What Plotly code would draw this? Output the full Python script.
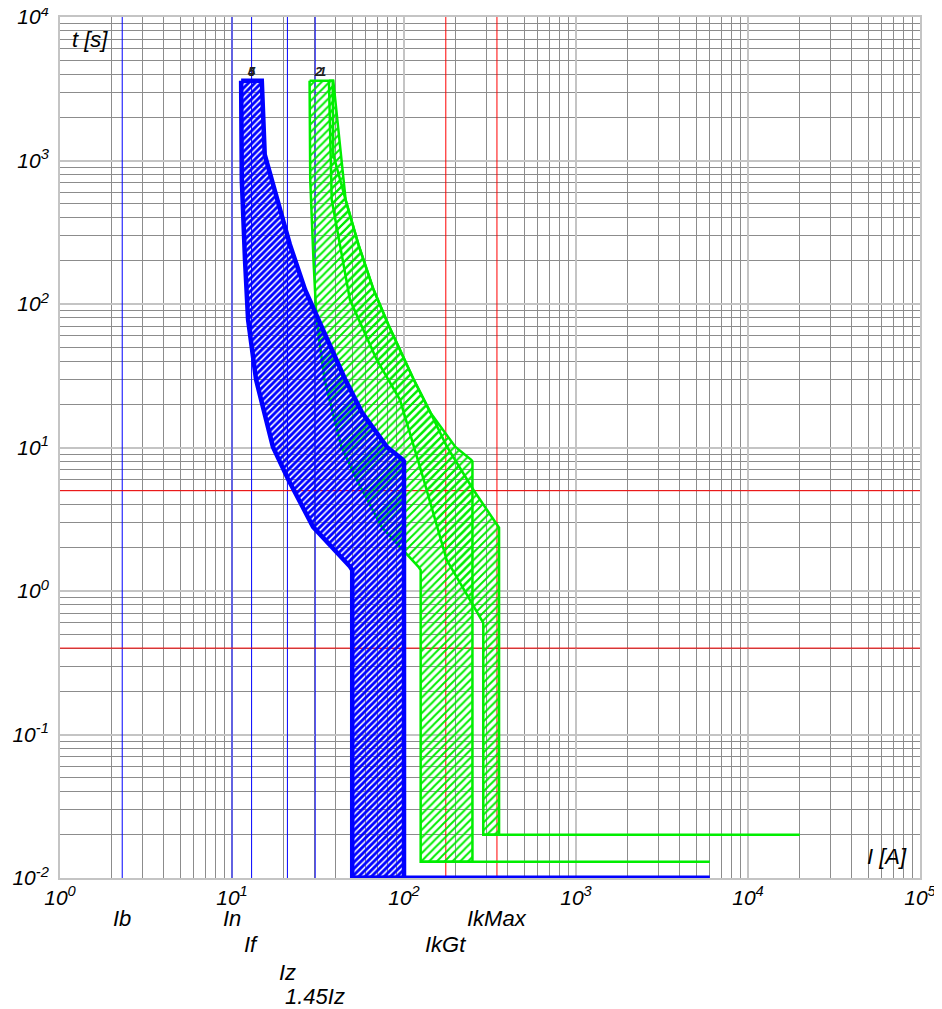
import plotly.graph_objects as go
import math

# ---------------- data ----------------
# Curves 4 / 5 (blue band)
blue_left_I = [11.3, 11.4, 11.9, 12.4, 13.8, 17.3, 21.2, 29.6, 48.5, 50, 50]
blue_left_t = [3600, 735, 204, 78, 29.7, 10.1, 6.0, 2.8, 1.48, 1.4, 0.01]
blue_right_I = [14.9, 15.5, 18.3, 21.7, 26.6, 32.5, 45.4, 57.0, 79.6, 98.6, 100, 100]
blue_right_t = [3600, 1100, 530, 260, 126, 72, 30, 17.5, 10.1, 8.2, 8.0, 0.01]
blue_tail_I = [50, 6000]
blue_tail_t = [0.01, 0.01]

# Curve 1 (green band A)
gA_left_I = [28.25, 28.5, 29.75, 31.0, 34.5, 43.25, 53.0, 74.0, 121, 125, 125]
gA_left_t = [3600, 735, 204, 78, 29.7, 10.1, 6.0, 2.8, 1.48, 1.4, 0.013]
gA_right_I = [38.5, 38.8, 45.8, 54.3, 66.5, 81.0, 113.5, 142.5, 199, 246, 250, 250]
gA_right_t = [3600, 1100, 530, 260, 126, 72, 30, 17.5, 10.1, 8.2, 8.0, 0.013]
gA_tail_I = [125, 6000]
gA_tail_t = [0.013, 0.013]

# Curve 2 (green band B)
gB_left_I = [36.6, 38.0, 48.5, 69.4, 94.8, 130, 177, 283, 289, 289]
gB_left_t = [3600, 533, 107, 40.9, 21.5, 6.0, 1.65, 0.614, 0.6, 0.02]
gB_right_I = [38.8, 45.8, 54.3, 66.5, 81.0, 113.5, 142.5, 177, 253, 357, 357]
gB_right_t = [3600, 530, 260, 126, 72, 30, 17.5, 10.2, 5.08, 2.76, 0.02]
gB_tail_I = [289, 20000]
gB_tail_t = [0.02, 0.02]

# reference lines
vline_names = ["Ib", "In", "If", "Iz", "1.45Iz"]
vline_values = [2.3, 10, 13, 21, 30.45]
red_vline_names = ["IkMax", "IkGt"]
red_vline_values = [347, 175]
red_hline_values = [5, 0.4]

# label rows below the axis (paper y)
vlabel_rows = [-0.0465, -0.0465, -0.0778, -0.1092, -0.1382]
red_label_rows = [-0.0465, -0.0778]

x_ticks = [1, 10, 100, 1000, 10000, 100000]
x_exps = ["0", "1", "2", "3", "4", "5"]
y_ticks = [0.01, 0.1, 1, 10, 100, 1000, 10000]
y_exps = ["-2", "-1", "0", "1", "2", "3", "4"]

BLUE = "#0000ff"
GREEN = "#00ee00"
RED = "#ff0000"
FONT = "Liberation Sans, Arial, sans-serif"

fig = go.Figure()

# reference lines
for v in vline_values:
    fig.add_trace(go.Scatter(x=[v, v], y=[0.01, 10000], mode="lines",
                             line=dict(color=BLUE, width=1), hoverinfo="skip", showlegend=False))
for v in red_vline_values:
    fig.add_trace(go.Scatter(x=[v, v], y=[0.01, 10000], mode="lines",
                             line=dict(color=RED, width=1), hoverinfo="skip", showlegend=False))
for v in red_hline_values:
    fig.add_trace(go.Scatter(x=[1, 100000], y=[v, v], mode="lines",
                             line=dict(color=RED, width=1), hoverinfo="skip", showlegend=False))


def band(left_I, left_t, right_I, right_t, color, width, size, solidity):
    xs = list(left_I) + list(reversed(right_I)) + [left_I[0]]
    ys = list(left_t) + list(reversed(right_t)) + [left_t[0]]
    fig.add_trace(go.Scatter(
        x=xs, y=ys, mode="lines", fill="toself",
        fillcolor="rgba(0,0,0,0)",
        fillpattern=dict(shape="/", fgcolor=color, bgcolor="rgba(0,0,0,0)",
                         size=size, solidity=solidity, fgopacity=1),
        line=dict(color=color, width=width), hoverinfo="skip", showlegend=False))


band(gB_left_I, gB_left_t, gB_right_I, gB_right_t, GREEN, 2.5, 5.5, 0.35)
fig.add_trace(go.Scatter(x=gB_tail_I, y=gB_tail_t, mode="lines",
                         line=dict(color=GREEN, width=2.5), showlegend=False, hoverinfo="skip"))
band(gA_left_I, gA_left_t, gA_right_I, gA_right_t, GREEN, 2.5, 5.5, 0.35)
fig.add_trace(go.Scatter(x=gA_tail_I, y=gA_tail_t, mode="lines",
                         line=dict(color=GREEN, width=2.5), showlegend=False, hoverinfo="skip"))
band(blue_left_I, blue_left_t, blue_right_I, blue_right_t, BLUE, 4.5, 4.5, 0.65)
fig.add_trace(go.Scatter(x=blue_tail_I, y=blue_tail_t, mode="lines",
                         line=dict(color=BLUE, width=5), showlegend=False, hoverinfo="skip"))

ann = []
lab_font = dict(family=FONT, size=22, color="#000000")
for name, v, row in zip(vline_names, vline_values, vlabel_rows):
    ann.append(dict(text="<i>%s</i>" % name, x=math.log10(v), xref="x", y=row, yref="paper",
                    showarrow=False, font=lab_font, xanchor="center", yanchor="middle"))
for name, v, row in zip(red_vline_names, red_vline_values, red_label_rows):
    ann.append(dict(text="<i>%s</i>" % name, x=math.log10(v), xref="x", y=row, yref="paper",
                    showarrow=False, font=lab_font, xanchor="center", yanchor="middle"))

# axis titles inside plot
ann.append(dict(text="<i>t [s]</i>", x=0.174, y=3.842, xref="x", yref="y", showarrow=False,
                font=lab_font, xanchor="center", yanchor="middle"))
ann.append(dict(text="<i>I [A]</i>", x=4.808, y=-1.851, xref="x", yref="y", showarrow=False,
                font=lab_font, xanchor="center", yanchor="middle"))

# curve number labels
curve_labels = ["5", "4", "2", "1"]
curve_label_I = [13.0, 13.0, 32.0, 33.7]
curve_label_t = [4180, 4180, 4180, 4180]
for txt, I, t in zip(curve_labels, curve_label_I, curve_label_t):
    ann.append(dict(text="<i><b>%s</b></i>" % txt, x=math.log10(I), y=math.log10(t), xref="x", yref="y",
                    showarrow=False, font=dict(family=FONT, size=13, color="#222222"),
                    xanchor="center", yanchor="middle"))

# page has an 8px body margin: shift plot area so it lands where the reference has it
fig.update_layout(
    width=942, height=1009,
    margin=dict(l=52, r=30, t=9, b=139),
    paper_bgcolor="white", plot_bgcolor="white",
    annotations=ann,
    showlegend=False,
)

axis_common = dict(
    tickmode="array", ticks="", showgrid=True, gridcolor="#c4c4c4", gridwidth=2,
    showline=True, linecolor="#c4c4c4", linewidth=2, mirror=True,
    zeroline=False, automargin=False, ticklabeloverflow="allow",
    tickfont=dict(family=FONT, size=21, color="#000000"),
    minor=dict(dtick="D1", showgrid=True, gridcolor="#8c8c8c", gridwidth=1, ticks=""),
)
fig.update_xaxes(type="log", range=[0, 5], tickvals=x_ticks,
                 ticktext=["<i>10<sup>%s</sup></i>" % e for e in x_exps], **axis_common)
fig.update_yaxes(type="log", range=[-2, 4], tickvals=y_ticks, ticklabelstandoff=5,
                 ticktext=["<i>10<sup>%s</sup></i>" % e for e in y_exps], **axis_common)

fig.write_html("out.html")
